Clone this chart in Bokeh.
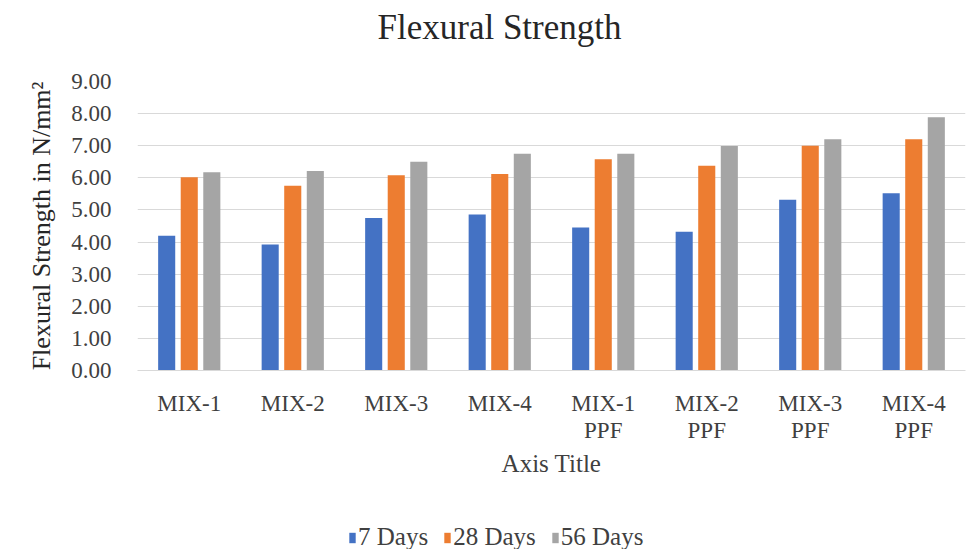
from bokeh.plotting import figure
from bokeh.layouts import column
from bokeh.core.properties import value
from bokeh.models import ColumnDataSource, FactorRange, Range1d, FixedTicker, NumeralTickFormatter, Legend, LegendItem
from bokeh.transform import dodge
from bokeh.embed import file_html
from bokeh.resources import INLINE

title_text = "Flexural Strength"
categories = ["MIX-1", "MIX-2", "MIX-3", "MIX-4", "MIX-1\nPPF", "MIX-2\nPPF", "MIX-3\nPPF", "MIX-4\nPPF"]
days7 = [4.20, 3.92, 4.75, 4.86, 4.45, 4.32, 5.32, 5.52]
days28 = [6.02, 5.75, 6.08, 6.12, 6.58, 6.38, 7.00, 7.20]
days56 = [6.17, 6.21, 6.50, 6.75, 6.75, 6.99, 7.20, 7.89]
series_names = ["7 Days", "28 Days", "56 Days"]
colors = ["#4472C4", "#ED7D31", "#A5A5A5"]
y_ticks = [0, 1, 2, 3, 4, 5, 6, 7, 8, 9]

FONT = "Liberation Serif"

# ---- title strip ----
tt = figure(width=979, height=60, output_backend="svg", toolbar_location=None,
            x_range=Range1d(0, 1), y_range=Range1d(0, 60),
            min_border_left=0, min_border_right=0, min_border_top=0, min_border_bottom=0)
tt.axis.visible = False
tt.grid.visible = False
tt.outline_line_color = None
tt.border_fill_color = "white"
tt.text(x=[0.5], y=[33], text=[title_text], text_align="center", text_baseline="middle",
        x_offset=-52, text_font=value(FONT), text_font_size="35px", text_color="#262626")

# ---- main chart ----
src = ColumnDataSource(data=dict(cat=categories, d7=days7, d28=days28, d56=days56))

p = figure(width=979, height=450, output_backend="svg", toolbar_location=None,
           x_range=FactorRange(*categories, range_padding=0), y_range=Range1d(0, 9),
           min_border_left=137, min_border_right=14, min_border_top=21, min_border_bottom=140)
p.outline_line_color = None
p.background_fill_color = "white"
p.border_fill_color = "white"

renderers = []
for key, off, col in zip(["d7", "d28", "d56"], [-0.218, 0.0, 0.218], colors):
    r = p.vbar(x=dodge("cat", off, range=p.x_range), top=key, width=0.165, source=src,
               fill_color=col, line_color=None)
    renderers.append(r)

p.yaxis.ticker = FixedTicker(ticks=y_ticks)
p.yaxis.formatter = NumeralTickFormatter(format="0.00")
p.yaxis.axis_line_color = None
p.yaxis.major_tick_line_color = None
p.yaxis.minor_tick_line_color = None
p.yaxis.major_label_standoff = 20
p.yaxis.major_label_text_font = FONT
p.yaxis.major_label_text_font_size = "23px"
p.yaxis.major_label_text_color = "#404040"
p.yaxis.axis_label = "Flexural Strength in N/mm²"
p.yaxis.axis_label_text_font = FONT
p.yaxis.axis_label_text_font_size = "26px"
p.yaxis.axis_label_text_font_style = "normal"
p.yaxis.axis_label_text_color = "#262626"
p.yaxis.axis_label_standoff = 12

p.xaxis.axis_line_color = "#d9d9d9"
p.xaxis.major_tick_line_color = None
p.xaxis.minor_tick_line_color = None
p.xaxis.major_label_standoff = 14
p.xaxis.major_label_text_font = FONT
p.xaxis.major_label_text_font_size = "23px"
p.xaxis.major_label_text_line_height = 1.1
p.xaxis.major_label_text_color = "#404040"
p.xaxis.axis_label = "Axis Title"
p.xaxis.axis_label_text_font = FONT
p.xaxis.axis_label_text_font_size = "25px"
p.xaxis.axis_label_text_font_style = "normal"
p.xaxis.axis_label_text_color = "#404040"
p.xaxis.axis_label_standoff = 4

p.xgrid.grid_line_color = None
p.ygrid.grid_line_color = "#d9d9d9"
p.ygrid.grid_line_width = 1

# ---- legend strip below the chart ----
lg = figure(width=979, height=39, output_backend="svg", toolbar_location=None,
            x_range=Range1d(0, 1), y_range=Range1d(0, 1),
            min_border_left=0, min_border_right=0, min_border_top=0, min_border_bottom=0)
lg.axis.visible = False
lg.grid.visible = False
lg.outline_line_color = None
lg.border_fill_color = "white"
leg_renderers = []
for col in colors:
    leg_renderers.append(lg.vbar(x=[-5], top=[-5], bottom=[-6], width=0.1,
                                 fill_color=col, line_color=None))
legend = Legend(items=[LegendItem(label=n, renderers=[r]) for n, r in zip(series_names, leg_renderers)],
                orientation="horizontal", location=(211, -2))
legend.label_text_font = FONT
legend.label_text_font_size = "25px"
legend.label_text_color = "#404040"
legend.glyph_width = 8
legend.glyph_height = 13
legend.label_standoff = 2
legend.spacing = 15
legend.padding = 0
legend.margin = 0
legend.border_line_color = None
legend.background_fill_alpha = 0
lg.add_layout(legend, "center")

layout = column(tt, p, lg, spacing=0)
open("out.html", "w").write(file_html(layout, INLINE))
